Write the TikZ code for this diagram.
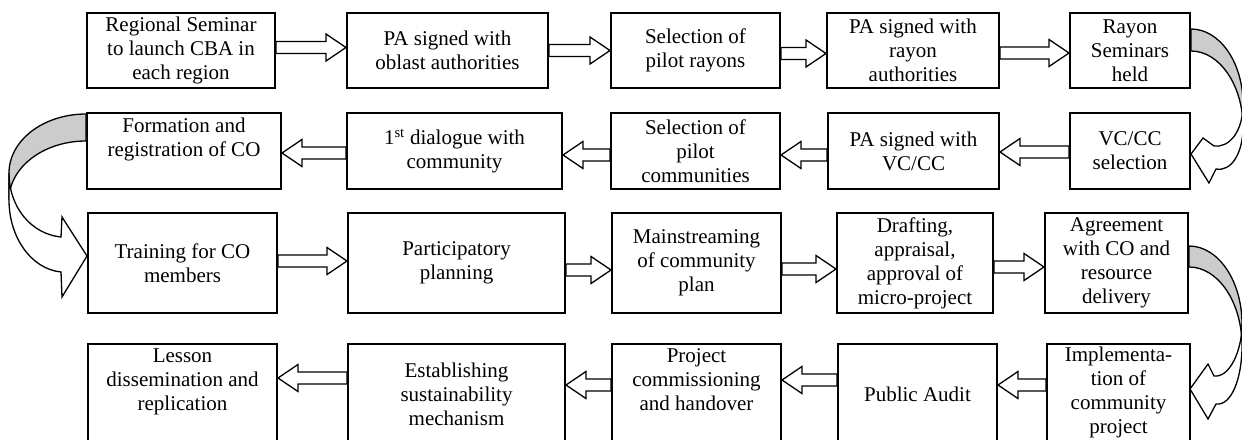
\documentclass[tikz,border=0pt]{standalone}
\usepackage{fontspec}
\setmainfont{Liberation Serif}
\usetikzlibrary{calc}

\tikzset{
  stage/.style={draw, line width=2pt, inner sep=0pt, font=\fontsize{21}{24}\selectfont},
  flow/.style={draw, line width=1.3pt, line join=miter},
  backface/.style={draw, line width=1.3pt, fill=gray!40},
  frontface/.style={draw, line width=1.3pt, fill=white}
}

\newcommand{\stagetext}[4][c]{\parbox[c][#3][#1]{#2}{\centering #4}}
\newcommand{\flowarrow}[2]{%
  \draw[flow] let \p1=(#1), \p2=(#2), \p3=($(\p2)!20pt!(\p1)$) in
    (\x1,\y1-6pt) -- (\x3,\y1-6pt) -- (\x3,\y1-13.5pt) -- (\x2,\y1)
    -- (\x3,\y1+13.5pt) -- (\x3,\y1+6pt) -- (\x1,\y1+6pt) -- cycle;}

\begin{document}
\begin{tikzpicture}[x=1pt, y=1pt]
		\useasboundingbox (0,0) rectangle (1242,-439);
		
		\node[stage] (b1) at (181,-50.5) {\stagetext{188pt}{75pt}{Regional Seminar\\to launch CBA in\\each region}};
		\node[stage] (b2) at (447.5,-50.5) {\stagetext{201pt}{75pt}{PA signed with\\oblast authorities}};
		\node[stage] (b3) at (695.5,-50.5) {\stagetext{169pt}{75pt}{Selection of\\pilot rayons}};
		\node[stage] (b4) at (913,-50.5) {\stagetext{172pt}{75pt}{PA signed with\\rayon\\authorities}};
		\node[stage] (b5) at (1130,-50.5) {\stagetext{120pt}{75pt}{Rayon\\Seminars\\held}};
		
		\node[stage] (f1) at (184,-151) {\stagetext[t]{194pt}{76pt}{\vspace*{5pt}Formation and\\registration of CO}};
		\node[stage] (f2) at (454.5,-151) {\stagetext{215pt}{76pt}{1\textsuperscript{st} dialogue with\\community}};
		\node[stage] (f3) at (695.5,-151) {\stagetext{169pt}{76pt}{Selection of\\pilot\\communities}};
		\node[stage] (f4) at (913.5,-151) {\stagetext{171pt}{76pt}{PA signed with\\VC/CC}};
		\node[stage] (f5) at (1130,-151) {\stagetext{120pt}{76pt}{VC/CC\\selection}};
		
		\node[stage] (t1) at (182.5,-263) {\stagetext{189pt}{100pt}{Training for CO\\members}};
		\node[stage] (t2) at (456.5,-263) {\stagetext{217pt}{100pt}{Participatory\\planning}};
		\node[stage] (t3) at (696.5,-263) {\stagetext{169pt}{100pt}{Mainstreaming\\of community\\plan}};
		\node[stage] (t4) at (915,-263) {\stagetext{156pt}{100pt}{Drafting,\\appraisal,\\approval of\\micro-project}};
		\node[stage] (t5) at (1116.5,-263) {\stagetext{143pt}{100pt}{Agreement\\with CO and\\resource\\delivery}};
		
		\node[stage] (l1) at (182.5,-394.5) {\stagetext[t]{189pt}{101pt}{\vspace*{5pt}Lesson\\dissemination and\\replication}};
		\node[stage] (l2) at (456.5,-394.5) {\stagetext{217pt}{101pt}{Establishing\\sustainability\\mechanism}};
		\node[stage] (l3) at (696.5,-394.5) {\stagetext[t]{169pt}{101pt}{\vspace*{5pt}Project\\commissioning\\and handover}};
		\node[stage] (l4) at (917.5,-394.5) {\stagetext{159pt}{101pt}{Public Audit}};
		\node[stage] (l5) at (1118.5,-394.5) {\stagetext[t]{143pt}{101pt}{\vspace*{3pt}Implementa-\\tion of\\community\\project}};
		
		\flowarrow{[yshift=3pt]b1.east}{[yshift=3pt]b2.west}
		\flowarrow{b2.east}{b3.west}
		\flowarrow{[yshift=-3pt]b3.east}{[yshift=-3pt]b4.west}
		\flowarrow{[yshift=-2.5pt]b4.east}{[yshift=-2.5pt]b5.west}
		
		\flowarrow{[yshift=-1pt]f5.west}{[yshift=-1pt]f4.east}
		\flowarrow{[yshift=-4pt]f4.west}{[yshift=-4pt]f3.east}
		\flowarrow{[yshift=-4pt]f3.west}{[yshift=-4pt]f2.east}
		\flowarrow{[yshift=-2pt]f2.west}{[yshift=-2pt]f1.east}
		
		\flowarrow{[yshift=2pt]t1.east}{[yshift=2pt]t2.west}
		\flowarrow{[yshift=-7pt]t2.east}{[yshift=-7pt]t3.west}
		\flowarrow{[yshift=-6pt]t3.east}{[yshift=-6pt]t4.west}
		\flowarrow{[yshift=-4pt]t4.east}{[yshift=-4pt]t5.west}
		
		\flowarrow{[yshift=9.5pt]l5.west}{[yshift=9.5pt]l4.east}
		\flowarrow{[yshift=14.5pt]l4.west}{[yshift=14.5pt]l3.east}
		\flowarrow{[yshift=9.5pt]l3.west}{[yshift=9.5pt]l2.east}
		\flowarrow{[yshift=16.5pt]l2.west}{[yshift=16.5pt]l1.east}
		
		\begin{scope}[shift={(b5.north east)}]
		\draw[backface] (0,-17) .. controls (28.7,-17) and (52,-50.6) .. (52,-92) -- (52,-115) .. controls (52,-73.6) and (28.7,-39) .. (0,-39) -- cycle;
		\draw[frontface] (52,-92) .. controls (52,-120) and (38,-136) .. (23,-134) -- (12,-126) -- (0,-142) -- (18,-171) -- (25,-157) .. controls (41,-160) and (52,-140) .. (52,-115) -- cycle;
		\end{scope}
		
		\begin{scope}[shift={(f1.north west)}]
		\draw[backface] (0,-2) .. controls (-42.5,-2) and (-77,-28.4) .. (-77,-61) -- (-77,-88) .. controls (-77,-55.4) and (-42.5,-29) .. (0,-29) -- cycle;
		\draw[frontface] (-77,-61) .. controls (-77,-95) and (-55,-122) .. (-25,-125) -- (-24,-105) -- (1,-144) -- (-24,-185) -- (-25,-160) .. controls (-55,-157) and (-77,-125) .. (-77,-88) -- cycle;
		\end{scope}
		
		\begin{scope}[shift={(t5.north east)}]
		\draw[backface] (0,-34) .. controls (29.3,-34) and (53,-69) .. (53,-112) -- (53,-134) .. controls (53,-90.4) and (29.3,-55) .. (0,-55) -- cycle;
		\draw[frontface] (53,-112) .. controls (53,-140) and (40,-166) .. (25,-164) -- (19,-152) -- (1,-177) -- (19,-207) -- (27,-192) .. controls (43,-194) and (53,-165) .. (53,-134) -- cycle;
		\end{scope}
\end{tikzpicture}
\end{document}
